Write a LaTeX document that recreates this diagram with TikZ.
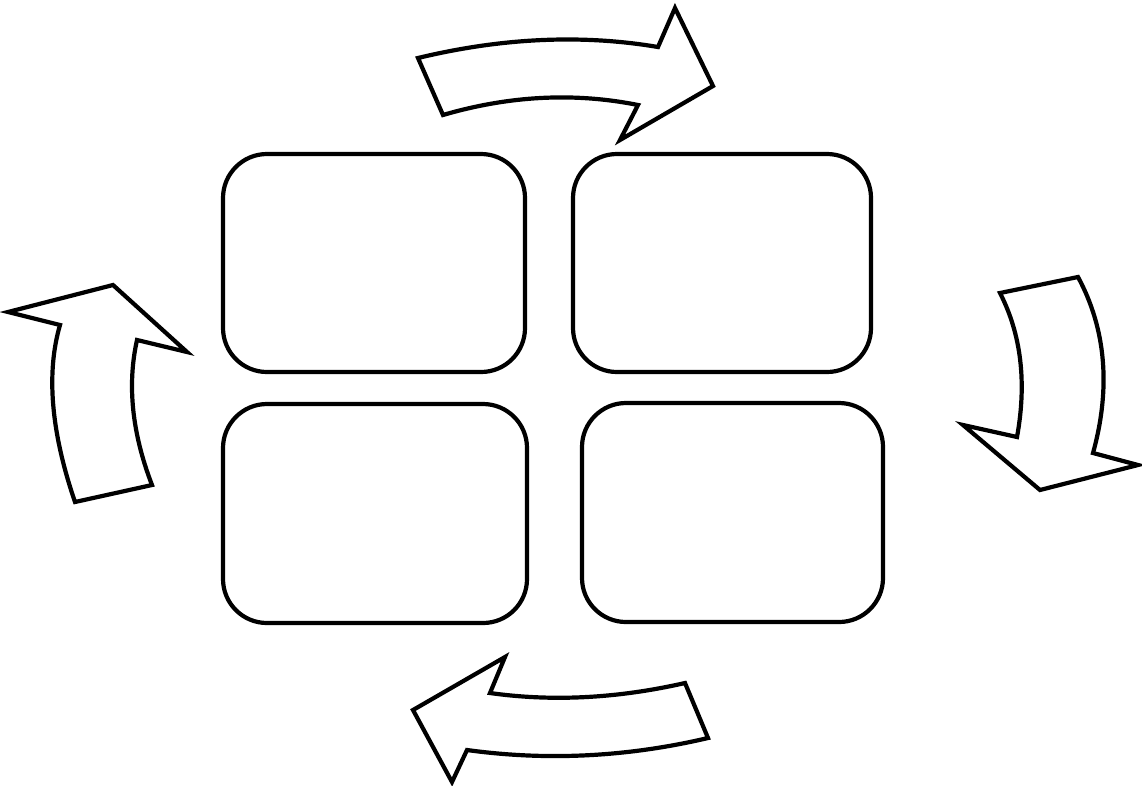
\documentclass[tikz,border=0pt]{standalone}
\begin{document}
\begin{tikzpicture}[x=1pt,y=-1pt,
  card/.style={draw=black,line width=4.2pt,rounded corners=44pt,inner sep=0pt,fill=white},
  bentarrow/.style={draw=black,line width=4.2pt,line join=miter,fill=white}]
\useasboundingbox (0,0) rectangle (1142,785);
\fill[white] (0,0) rectangle (1142,785);
% four boxes
\node[card,minimum width=302pt,minimum height=218pt] (tl) at (374,263) {};
\node[card,minimum width=298pt,minimum height=218pt] (tr) at (722,263) {};
\node[card,minimum width=304pt,minimum height=219pt] (bl) at (375,513.5) {};
\node[card,minimum width=301pt,minimum height=219pt] (br) at (732.5,512.5) {};
% top arrow (to the right)
\draw[bentarrow] (418,58) -- (443,115) .. controls (508,96) and (573,92) .. (638,105)
  -- (620,140) -- (713,86) -- (675,8) -- (658,47)
  .. controls (581,34) and (501,38) .. (418,58) -- cycle;
% right arrow (downwards)
\draw[bentarrow] (1000,293) -- (1078,277) .. controls (1106,329) and (1111,388) .. (1093,453)
  -- (1138,465) -- (1040,490) -- (963,425) -- (1017,437)
  .. controls (1027,382) and (1021,334) .. (1000,293) -- cycle;
% bottom arrow (to the left)
\draw[bentarrow] (505,657) -- (490,693) .. controls (554,702) and (619,698) .. (685,683)
  -- (708,738) .. controls (627,757) and (547,761) .. (467,750)
  -- (452,782) -- (413,710) -- cycle;
% left arrow (upwards)
\draw[bentarrow] (8,312) -- (113,285) -- (187,352) -- (137,340)
  .. controls (127,385) and (132,433) .. (152,485) -- (75,502)
  .. controls (51,432) and (46,373) .. (60,325) -- cycle;
\end{tikzpicture}
\end{document}
